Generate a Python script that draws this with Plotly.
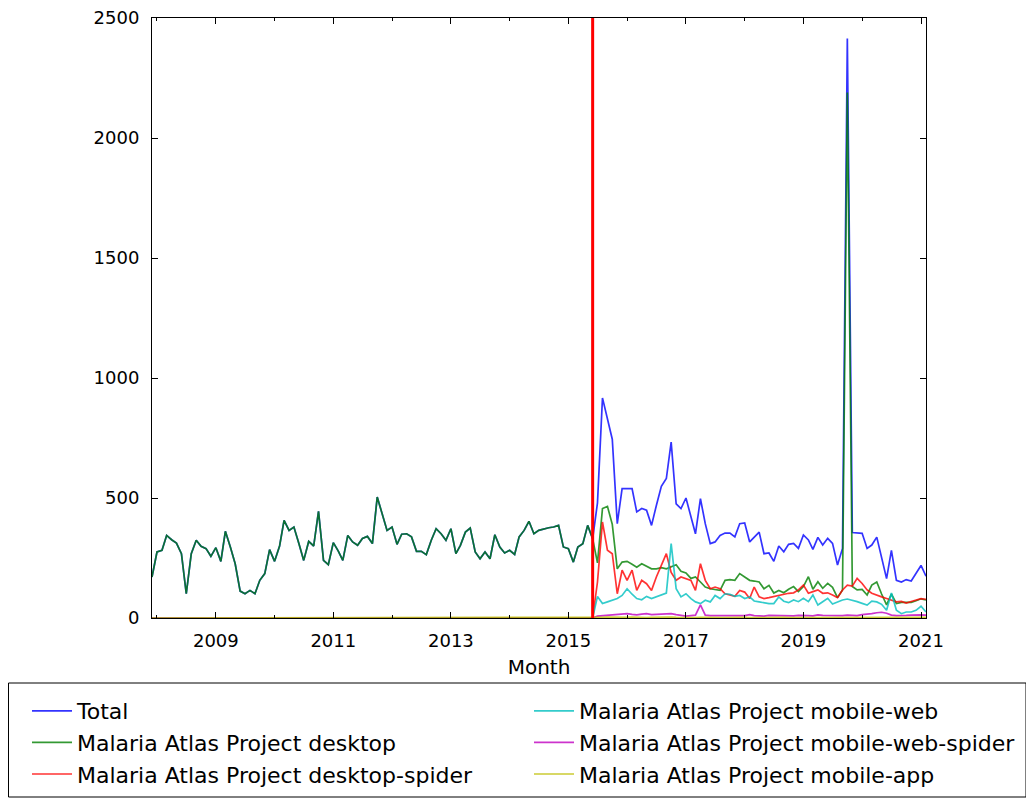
import pandas as pd
import plotly.graph_objects as go

# ---- data (monthly page views) ----
first_month = "2007-12-01"
last_month = "2021-02-01"
months = pd.date_range(first_month, last_month, freq="MS")
transition_month = "2015-06-01"

# 2007-12 .. 2015-06 (old source: desktop only, Total == desktop)
desktop_pre = [
    171, 275, 282, 344, 326, 312, 268, 101, 268, 324, 299, 289, 257,
    293, 236, 361, 296, 226, 112, 101, 115, 101, 157, 185, 285,
    236, 300, 407, 365, 379, 310, 240, 319, 300, 444, 240, 222,
    314, 279, 240, 344, 317, 303, 331, 340, 310, 504, 435, 365,
    379, 307, 349, 351, 338, 278, 278, 264, 324, 372, 351, 324,
    372, 268, 303, 358, 375, 275, 247, 275, 247, 347, 296, 271,
    282, 265, 338, 365, 403, 351, 365, 372, 376, 379, 386, 296,
    289, 233, 296, 310, 386, 330,
]
zero_pre = [0] * len(desktop_pre)

# 2015-07 .. 2021-02 (new source)
total_post = [
    480, 917, 830, 745, 393, 539, 539, 539, 442, 456, 449, 386, 469, 549, 581, 733, 476, 456,
    500, 420, 351, 497, 393, 310, 317, 344, 354, 354, 338, 393, 396, 317, 338, 358, 268, 271,
    236, 300, 276, 307, 311, 290, 346, 325, 286, 336, 304, 332, 311, 221, 290, 2415, 356, 353,
    353, 290, 304, 337, 254, 164, 282, 157, 150, 160, 154, 185, 219, 174,
]
desktop_post = [
    230, 456, 465, 390, 205, 233, 236, 224, 212, 226, 215, 205, 205, 210, 205, 212, 222, 195,
    188, 165, 171, 150, 129, 122, 118, 115, 157, 160, 157, 185, 171, 157, 154, 150, 122, 136,
    104, 115, 105, 120, 131, 110, 131, 172, 120, 151, 124, 144, 128, 85, 117, 2190, 131, 117,
    119, 96, 137, 150, 100, 55, 100, 60, 65, 65, 65, 72, 80, 75,
]
desktop_spider_post = [
    150, 400, 282, 268, 101, 199, 157, 199, 115, 157, 143, 115, 171, 219, 268, 190, 157, 171,
    164, 157, 115, 226, 157, 122, 129, 122, 101, 94, 90, 115, 108, 81, 129, 88, 81, 85,
    90, 94, 98, 103, 105, 117, 137, 103, 110, 117, 103, 105, 96, 85, 117, 137, 133, 165,
    144, 117, 103, 94, 88, 81, 74, 67, 69, 62, 69, 76, 81, 78,
]
mobile_web_post = [
    90, 60, 67, 74, 81, 94, 122, 99, 81, 76, 90, 81, 88, 94, 104, 310, 122, 88,
    101, 81, 67, 60, 74, 67, 94, 81, 101, 99, 90, 94, 81, 88, 71, 67, 63, 60,
    60, 88, 70, 64, 75, 68, 82, 68, 96, 54, 68, 82, 58, 68, 75, 79, 75, 68,
    61, 54, 70, 67, 57, 32, 104, 32, 18, 25, 25, 32, 49, 25,
]
mobile_web_spider_post = [
    8, 10, 12, 12, 14, 15, 18, 15, 13, 16, 18, 14, 15, 17, 20, 18, 14, 10,
    8, 10, 12, 55, 12, 10, 10, 9, 8, 10, 11, 9, 10, 14, 10, 9, 8, 11,
    10, 12, 9, 10, 9, 11, 12, 10, 9, 13, 11, 10, 12, 9, 10, 12, 11, 10,
    14, 15, 18, 22, 24, 20, 12, 10, 9, 11, 12, 14, 13, 12,
]
mobile_app_post = [
    2, 3, 4, 3, 5, 4, 3, 4, 3, 3, 2, 3, 4, 3, 3, 4, 3, 2,
    3, 3, 2, 3, 2, 3, 3, 2, 2, 3, 2, 3, 3, 2, 3, 2, 2, 3,
    2, 2, 3, 2, 2, 3, 2, 3, 2, 2, 3, 2, 2, 3, 3, 2, 2, 3,
    4, 3, 2, 3, 3, 2, 3, 2, 2, 3, 4, 3, 2, 3,
]

series = [
    ("Total", desktop_pre + total_post, "rgba(0,0,255,0.8)", "legend"),
    ("Malaria Atlas Project desktop", desktop_pre + desktop_post, "rgba(0,128,0,0.8)", "legend"),
    ("Malaria Atlas Project desktop-spider", zero_pre + desktop_spider_post, "rgba(255,0,0,0.8)", "legend"),
    ("Malaria Atlas Project mobile-web", zero_pre + mobile_web_post, "rgba(0,191,191,0.8)", "legend2"),
    ("Malaria Atlas Project mobile-web-spider", zero_pre + mobile_web_spider_post, "rgba(191,0,191,0.8)", "legend2"),
    ("Malaria Atlas Project mobile-app", zero_pre + mobile_app_post, "rgba(191,191,0,0.8)", "legend2"),
]

fig = go.Figure()
for name, vals, color, leg in series:
    fig.add_trace(go.Scatter(
        x=months, y=vals, name=name, mode="lines",
        line=dict(color=color, width=1.7), legend=leg,
    ))

# vertical marker line at the data-source change
fig.add_shape(type="line", xref="x", yref="paper",
              x0=transition_month, x1=transition_month, y0=0, y1=1,
              line=dict(color="red", width=3), layer="above")

# figure sits 8px inside the page (default body margin)
W, H = 1026, 796
L, R, T, B = 144, 108, 10, 186
pw, ph = W - L - R, H - T - B

# legend frame
fig.add_shape(type="rect", xref="paper", yref="paper",
              x0=(0.5 - L) / pw, x1=(1018 - L) / pw,
              y0=(H - B - 789) / ph, y1=(H - B - 675) / ph,
              line=dict(color="black", width=1), fillcolor="rgba(0,0,0,0)",
              layer="above")

leg_common = dict(
    orientation="v", xref="container", yref="container",
    y=(H - 682) / H, xanchor="left", yanchor="top",
    borderwidth=0, bgcolor="rgba(0,0,0,0)",
    font=dict(size=22, color="black", family="DejaVu Sans"),
    tracegroupgap=0, itemwidth=40,
)

fig.update_layout(
    width=W, height=H,
    margin=dict(l=L, r=R, t=T, b=B, autoexpand=False),
    plot_bgcolor="white", paper_bgcolor="white",
    font=dict(family="DejaVu Sans", size=18, color="black"),
    showlegend=True,
    legend=dict(x=19 / W, **leg_common),
    legend2=dict(x=521 / W, **leg_common),
    xaxis=dict(
        type="date", range=[months[0], months[-1]],
        dtick="M24", tick0="2009-01-01", tickformat="%Y",
        ticks="inside", ticklen=6, tickcolor="black",
        showline=True, linecolor="black", linewidth=1, mirror="ticks",
        showgrid=False, zeroline=False, ticklabelstandoff=6,
        ticklabeloverflow="allow",
        minor=dict(dtick="M12", tick0="2008-01-01", ticks="inside",
                   ticklen=3, tickcolor="black", showgrid=False),
        title=dict(text="Month", standoff=10, font=dict(size=20)),
    ),
    yaxis=dict(
        range=[0, 2500], tickmode="array",
        tickvals=[0, 500, 1000, 1500, 2000, 2500],
        ticks="inside", ticklen=6, tickcolor="black",
        showline=True, linecolor="black", linewidth=1, mirror="ticks",
        showgrid=False, zeroline=False, ticklabelstandoff=8,
        ticklabeloverflow="allow",
    ),
)

fig.write_html("out.html")
